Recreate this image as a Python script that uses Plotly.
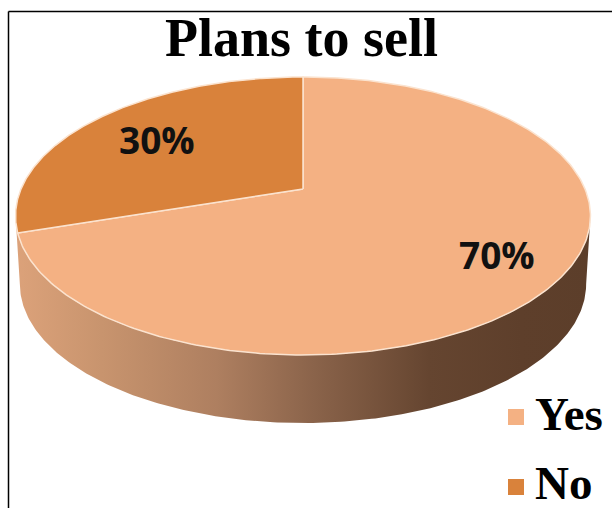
import numpy as np
import plotly.graph_objects as go

# Slice data
categories = ["Yes", "No"]
shares = [70, 30]
top_colors = ["#F4B183", "#D9823B"]
rim_stops = [
    (0.00, "#DCA27A"), (0.15, "#C8946E"), (0.35, "#AE7F60"), (0.52, "#8A634A"),
    (0.72, "#654530"), (0.88, "#5E3F2B"), (1.00, "#5C3E2A"),
]

W, H = 612, 508

# Perspective projection of the unit disc onto the page (pixel axes)
CX, CY = 303.0, 189.0
A, B, K = 282.0, 133.8, 0.194
DEPTH = 68.0


def project(theta, scale=1.0, drop=0.0):
    """Clockwise angle from 12 o'clock on the disc -> page position."""
    px, py = np.sin(theta), np.cos(theta)
    d = 1 + K * py
    return CX + scale * A * px / d, CY - B * py / d + drop


fig = go.Figure()

# Rim: front half of the disc edge joined to the same edge dropped by the depth
t_ext = np.arccos(-K)
t_front = np.linspace(t_ext, 2 * np.pi - t_ext, 240)
ux, uy = project(t_front)
lx, ly = project(t_front[::-1], scale=0.985, drop=DEPTH)
fig.add_trace(go.Scatter(
    x=np.r_[ux, lx], y=np.r_[uy, ly], mode="lines", fill="toself",
    line=dict(width=0), hoverinfo="skip", showlegend=False,
    fillgradient=dict(type="horizontal", colorscale=[list(s) for s in rim_stops]),
))

# Top face slices, starting at 12 o'clock and running clockwise
start = 0.0
for name, share, colour in zip(categories, shares, top_colors):
    end = start + 2 * np.pi * share / sum(shares)
    sx, sy = project(np.linspace(start, end, 300))
    fig.add_trace(go.Scatter(
        x=np.r_[CX, sx, CX], y=np.r_[CY, sy, CY], mode="lines", fill="toself",
        fillcolor=colour, line=dict(color="#FBE3CF", width=1.5),
        hoverinfo="skip", showlegend=False, name=name,
    ))
    start = end

# Legend keys and their labels
legend_x = [516, 516]
legend_y = [417, 487]
legend_text_y = [418, 487]
fig.add_trace(go.Scatter(
    x=legend_x, y=legend_y, mode="markers",
    marker=dict(symbol="square", size=16, color=top_colors),
    hoverinfo="skip", showlegend=False,
))
fig.add_trace(go.Scatter(
    x=[535, 535], y=legend_text_y, mode="text", text=[f"<b>{c}</b>" for c in categories],
    textposition="middle right",
    textfont=dict(family="Liberation Serif", size=47, color="#000000"),
    hoverinfo="skip", showlegend=False, cliponaxis=False,
))

# Percentage labels and title
label_font = dict(family="Open Sans", size=37, color="#111111", weight="bold")
annotations = [
    dict(x=497, y=254, text=f"{shares[0]}%", showarrow=False, font=label_font),
    dict(x=157, y=139, text=f"{shares[1]}%", showarrow=False, font=label_font),
    dict(x=301, y=38, text="<b>Plans to sell</b>", showarrow=False,
         font=dict(family="Liberation Serif", size=54, color="#000000")),
]

fig.update_layout(
    width=W, height=H, margin=dict(l=0, r=0, t=0, b=0),
    paper_bgcolor="#FFFFFF", plot_bgcolor="#FFFFFF",
    xaxis=dict(range=[0, W], visible=False, fixedrange=True),
    yaxis=dict(range=[H, 0], visible=False, fixedrange=True),
    annotations=annotations,
    shapes=[
        dict(type="line", x0=8.5, x1=8.5, y0=11.5, y1=H, line=dict(color="#000000", width=1.5)),
        dict(type="line", x0=8.5, x1=W, y0=11.5, y1=11.5, line=dict(color="#000000", width=1.5)),
    ],
)

fig.write_html("out.html", config=dict(displayModeBar=False))
